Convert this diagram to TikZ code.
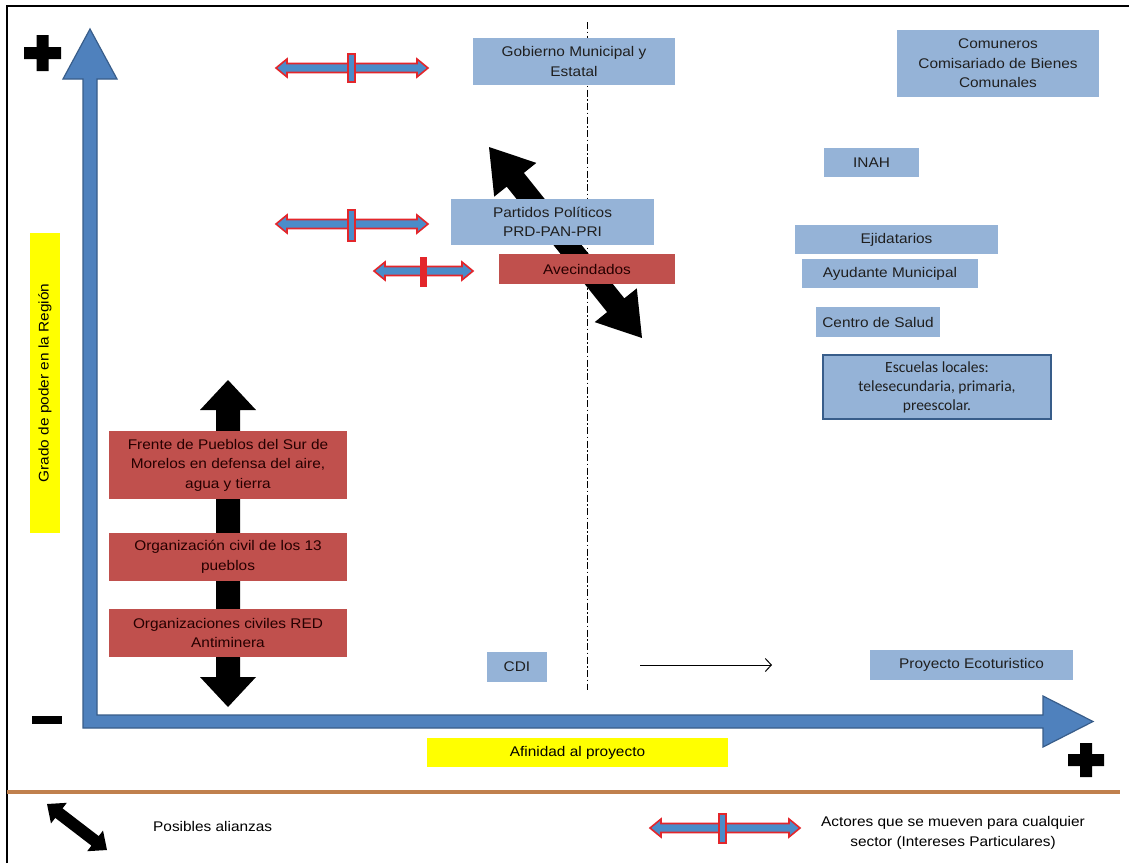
\documentclass[tikz,border=0pt]{standalone}
\usepackage{fontspec}
\setmainfont{Liberation Sans}[FakeStretch=1.1]
\newfontfamily\calibri{Carlito}
\usetikzlibrary{calc,arrows.meta}
\definecolor{axisblue}{HTML}{4F81BD}
\definecolor{axisedge}{HTML}{385D8A}
\definecolor{boxblue}{HTML}{95B3D7}
\definecolor{boxred}{HTML}{C0504D}
\definecolor{actorred}{HTML}{E3262B}
\definecolor{actorblue}{HTML}{4A8CC9}
\definecolor{brownline}{HTML}{C0804D}
\definecolor{labelyellow}{HTML}{FFFF00}
% block double arrow between two named coordinates
% #1 start, #2 end, #3 shaft half width, #4 head half width, #5 head length, #6 style
\newcommand\blockdarrow[6]{%
  \path ($(#1)!#5!(#2)$) coordinate (ba-p) ($(#2)!#5!(#1)$) coordinate (ba-q);
  \path[#6] (#1) -- ($(ba-p)!#4!90:(#2)$) -- ($(ba-p)!#3!90:(#2)$)
    -- ($(ba-q)!#3!-90:(#1)$) -- ($(ba-q)!#4!-90:(#1)$) -- (#2)
    -- ($(ba-q)!#4!90:(#1)$) -- ($(ba-q)!#3!90:(#1)$)
    -- ($(ba-p)!#3!-90:(#2)$) -- ($(ba-p)!#4!-90:(#2)$) -- cycle;}
\begin{document}
\begin{tikzpicture}[x=1pt,y=-1pt,
  font=\fontsize{14}{19.5}\selectfont,
  boxsize/.style 2 args={minimum width=#1pt,minimum height=#2pt},
  bluebox/.style={fill=boxblue,inner sep=0pt,align=center,text=black!88},
  redbox/.style={fill=boxred,inner sep=0pt,align=center,text=black!85!red},
  ylabel/.style={fill=labelyellow,inner sep=0pt,align=center,text=black},
  alliance/.style={fill=black},
  actor/.style={fill=actorblue,draw=actorred,line width=1.6pt,line join=miter},
  actorbar/.style={fill=actorblue,draw=actorred,line width=1.6pt},
  plussign/.style={fill=black},
]
\useasboundingbox (0,0) rectangle (1129,863);
\fill[white] (0,0) rectangle (1129,863);
% frame
\draw[line width=2.5pt] (7,863) -- (7,6) -- (1129,6);
% separator
\draw[brownline,line width=4pt] (7,792) -- (1120,792);

% axes (L-shaped block arrow)
\filldraw[fill=axisblue,draw=axisedge,line width=1.2pt,line join=miter]
  (90,29) -- (117,79) -- (97,79) -- (97,715) -- (1043,715) -- (1043,696)
  -- (1093,721.5) -- (1043,747) -- (1043,728) -- (83,728) -- (83,79)
  -- (63,79) -- cycle;

% plus / minus signs
\fill[plussign] (24,47) rectangle (61,59) (36.5,35) rectangle (48.5,71);
\fill[plussign] (1068,754) rectangle (1104,766) (1080,743) rectangle (1092,777);
\fill[plussign] (32,716) rectangle (62,724);

% axis labels
\node[ylabel,boxsize={300}{30},rotate=90] (ylab) at (45,383) {Grado de poder en la Región};
\node[ylabel,boxsize={301}{29}] (xlab) at (577.5,752.5) {Afinidad al proyecto};

% dash-dot divider
\draw[line width=1pt,dash pattern=on 7pt off 2.5pt on 1.5pt off 2.5pt] (587,22) -- (587,690);

% alliance arrows (behind boxes)
\coordinate (va1) at (228,380);
\coordinate (va2) at (228,707);
\blockdarrow{va1}{va2}{12pt}{28pt}{30pt}{alliance}
\coordinate (da1) at (489,147);
\coordinate (da2) at (642,338);
\blockdarrow{da1}{da2}{11pt}{27pt}{42pt}{alliance}

% actors
\node[bluebox,boxsize={202}{47}] (gob) at (574,61.5) {Gobierno Municipal y\\Estatal};
\node[bluebox,boxsize={202}{67}] (com) at (998,63.5) {Comuneros\\Comisariado de Bienes\\Comunales};
\node[bluebox,boxsize={95}{29}] (inah) at (871.5,162.5) {INAH};
\node[bluebox,boxsize={203}{46}] (part) at (552.5,222) {Partidos Políticos\\PRD-PAN-PRI};
\node[redbox,boxsize={176}{30}] (avec) at (587,269) {Avecindados};
\node[bluebox,boxsize={203}{29}] (ejid) at (896.5,239.5) {Ejidatarios};
\node[bluebox,boxsize={176}{29}] (ayud) at (890,273.5) {Ayudante Municipal};
\node[bluebox,boxsize={124}{30}] (salud) at (878,322) {Centro de Salud};
\node[bluebox,draw=axisedge,line width=2pt,boxsize={228}{64},
  font=\calibri\fontsize{15.5}{19}\selectfont] (esc) at (937,387)
  {Escuelas locales:\\telesecundaria, primaria,\\preescolar.};
\node[bluebox,boxsize={60}{30}] (cdi) at (517,667) {CDI};
\node[bluebox,boxsize={203}{30}] (eco) at (971.5,665) {Proyecto Ecoturistico};
\node[redbox,boxsize={238}{68}] (frente) at (228,465)
  {Frente de Pueblos del Sur de\\Morelos en defensa del aire,\\agua y tierra};
\node[redbox,boxsize={238}{48}] (org13) at (228,557) {Organización civil de los 13\\pueblos};
\node[redbox,boxsize={238}{48}] (redam) at (228,633) {Organizaciones civiles RED\\Antiminera};

% thin arrow toward project
\coordinate (ta1) at (640,665);
\coordinate (ta2) at (772,665);
\draw[line width=1pt,-{Straight Barb[length=6pt,width=13pt,line width=1pt]}] (ta1) -- (ta2);

% actors that move to any sector
\coordinate (aa1) at (276,68);
\coordinate (aa2) at (428,68);
\blockdarrow{aa1}{aa2}{4.5pt}{9pt}{11pt}{actor}
\draw[actorbar] (348,54) rectangle (355,82);
\coordinate (ab1) at (276,224);
\coordinate (ab2) at (428,224);
\blockdarrow{ab1}{ab2}{4.5pt}{9pt}{11pt}{actor}
\draw[actorbar] (348,210) rectangle (355,241);
\coordinate (ac1) at (374,271);
\coordinate (ac2) at (473,271);
\blockdarrow{ac1}{ac2}{4.5pt}{9pt}{11pt}{actor}
\filldraw[fill=actorred,draw=actorred,line width=1pt] (420,257) rectangle (426,286);

% legend
\coordinate (la1) at (47,804);
\coordinate (la2) at (107,850);
\blockdarrow{la1}{la2}{6pt}{13pt}{15pt}{alliance}
\node[anchor=west,inner sep=0pt] (ltxt1) at (153,826) {Posibles alianzas};
\coordinate (lb1) at (650,828);
\coordinate (lb2) at (800,828);
\blockdarrow{lb1}{lb2}{4.5pt}{9pt}{11pt}{actor}
\draw[actorbar] (719,814) rectangle (726,843);
\node[align=center,inner sep=0pt] (ltxt2) at (953,833)
  {Actores que se mueven para cualquier\\sector (Intereses Particulares)};
\end{tikzpicture}
\end{document}
